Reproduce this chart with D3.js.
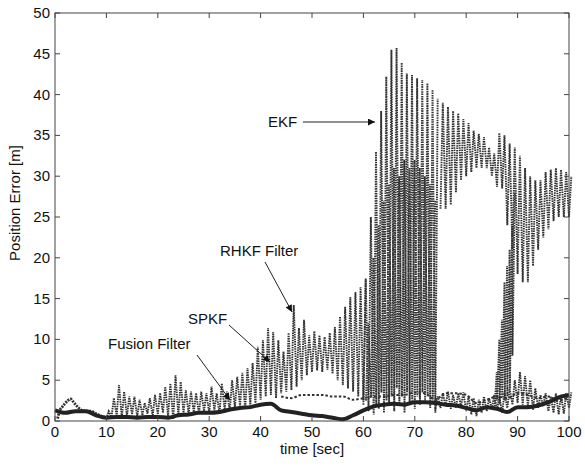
<!DOCTYPE html>
<html>
<head>
<meta charset="utf-8">
<script src="https://cdn.jsdelivr.net/npm/d3@7"></script>
<style>
body { margin: 0; background: #fff; }
svg text { font-family: "Liberation Sans", Arial, sans-serif; fill: #111; }
</style>
</head>
<body>
<svg id="chart"></svg>
<script>
// ticks
var xTicks = [0, 10, 20, 30, 40, 50, 60, 70, 80, 90, 100];
var yTicks = [0, 5, 10, 15, 20, 25, 30, 35, 40, 45, 50];

// Fusion filter (thick line), every 2 sec
var fusionTime = d3.range(0, 101, 2);
var fusionErr = [1.3, 1.0, 1.2, 1.2, 0.7, 0.4, 0.5, 0.5, 0.4, 0.5,
    0.5, 0.4, 0.7, 0.8, 1.0, 1.0, 1.1, 1.4, 1.6, 1.7,
    2.0, 2.1, 1.3, 1.1, 0.9, 0.7, 0.6, 0.4, 0.2, 0.7,
    1.3, 1.8, 2.0, 2.1, 2.0, 2.3, 2.3, 2.2, 2.0, 1.9,
    1.6, 1.3, 1.7, 1.5, 1.1, 1.7, 1.7, 1.9, 2.3, 2.9, 3.2];

// start-up transient (first 10 sec)
var startTime = [0.5, 1, 1.5, 2, 2.5, 3, 3.5, 4, 5, 6, 7, 8, 9, 10];
var startErr = [0.3, 1.4, 1.8, 2.2, 2.5, 2.7, 2.4, 2.0, 1.4, 1.2, 1.2, 0.9, 0.6, 0.5];

// SPKF / RHKF oscillation: peak and trough each second, 10..60 sec
var spkfTime = d3.range(10, 61, 1);
var spkfHigh = [1.2, 2.8, 4.4, 3.6, 3.0, 3.0, 2.6, 2.2, 2.8, 3.2,
    3.4, 4.2, 4.6, 5.6, 4.8, 3.8, 3.6, 3.4, 3.6, 3.4,
    4.2, 3.4, 4.6, 3.6, 5.0, 5.4, 5.9, 6.5, 7.1, 9.1,
    9.9, 11.4, 10.9, 9.9, 8.5, 10.8, 14.2, 11.4, 12.4, 10.5,
    11.0, 10.5, 10.3, 10.8, 11.5, 12.8, 14.0, 15.2, 15.8, 16.4, 17.3];
var spkfLow = [0.3, 0.5, 0.6, 0.4, 0.6, 0.8, 0.5, 0.7, 0.9, 0.6,
    0.8, 1.0, 0.6, 0.2, 0.7, 1.0, 0.8, 1.1, 0.9, 1.2,
    1.0, 1.3, 0.9, 1.4, 1.2, 1.6, 1.8, 1.5, 2.0, 2.2,
    2.6, 3.0, 3.2, 2.8, 3.4, 3.6, 3.8, 4.2, 5.0, 5.6,
    6.0, 6.2, 6.0, 6.3, 5.8, 5.0, 4.4, 4.0, 3.6, 3.0, 2.5];

// EKF divergence, 60..74 sec
var ekfTime = d3.range(60, 75, 1);
var ekfHigh = [17.5, 25, 33, 38, 42.2, 45.5, 45.7, 43.9, 42.6, 42.4, 42, 41.8, 41.4, 40.6, 39.5];
var ekfLow = [2.0, 1.2, 0.8, 1.5, 1.0, 2.0, 1.2, 1.8, 1.0, 2.2, 1.5, 2.0, 2.4, 1.6, 1.0];

// second dense band under the EKF peaks
var ekf2Time = d3.range(60.5, 74, 1);
var ekf2High = [12, 20, 24, 27, 29, 31, 30, 32, 31, 32, 31, 30, 29, 27];
var ekf2Low = [2.5, 3, 2, 3.5, 2.5, 3, 4, 3, 3.5, 2.5, 3, 3.5, 3, 2.5];

// EKF after 75 sec
var ekf3Time = d3.range(75, 101, 1);
var ekf3High = [39, 38.5, 38, 37.7, 37, 36.5, 35.6, 35.2, 34.8, 33.5, 32.8, 35.3, 35,
    34, 33.5, 32.5, 31, 30, 29.5, 29.5, 30.5, 30.8, 31, 30.8, 30.5, 30];
var ekf3Low = [26, 26, 26.5, 28, 29.5, 30, 30.5, 31, 31, 31, 30, 28.7, 28.5,
    24, 21, 18, 17, 17, 19, 21, 22.5, 23.5, 24.5, 25, 25, 25];

// spike around 86..89 sec
var spikeTime = [85.5, 86, 86.5, 87, 87.5, 88, 88.5, 89];
var spikeHigh = [6, 10, 12.4, 17, 19, 21, 24, 28];
var spikeLow = [1.5, 2.5, 2, 3, 2.5, 3, 4, 8];

// small noise after 74 sec
var noiseTime = d3.range(74, 101, 1);
var noiseHigh = [3.0, 3.4, 3.6, 3.2, 3.4, 3.5, 3.0, 2.8, 2.6, 3.0, 2.8, 3.2, 3.0, 3.5,
    4.0, 5.0, 6.0, 5.5, 5.0, 4.0, 3.2, 3.4, 3.0, 3.4, 3.2, 3.4, 3.5];
var noiseLow = [1.5, 1.6, 1.8, 1.5, 1.6, 1.8, 1.2, 0.8, 0.6, 1.0, 1.2, 1.5, 1.4, 1.0,
    1.6, 2.0, 2.2, 2.0, 1.8, 1.4, 1.6, 1.8, 1.2, 1.0, 0.8, 0.9, 1.6];

// converged dashed line, every 2 sec from 44
var lateTime = d3.range(44, 101, 2);
var lateErr = [3.0, 2.8, 3.2, 3.2, 3.2, 3.0, 3.0, 2.6, 2.8, 3.0, 3.0, 3.2, 3.2, 3.5, 3.4,
    2.6, 3.4, 3.4, 3.2, 2.2, 2.6, 3.0, 2.8, 3.4, 3.2, 2.8, 3.0, 2.5, 3.0];

var width = 585, height = 468;
var margin = { left: 55, right: 16, top: 13, bottom: 47 };

var svg = d3.select('#chart')
    .attr('width', width)
    .attr('height', height);

var x = d3.scaleLinear().domain([0, 100]).range([margin.left, width - margin.right]);
var y = d3.scaleLinear().domain([0, 50]).range([height - margin.bottom, margin.top]);

var plot = svg.append('g');
var line = d3.line().x(d => x(d[0])).y(d => y(d[1]));
var smooth = d3.line().x(d => x(d[0])).y(d => y(d[1])).curve(d3.curveMonotoneX);

// oscillating band: go up to the peak and back to the trough each step
function drawBand(times, highs, lows) {
    var pts = [];
    for (var i = 0; i < times.length; i++) {
        pts.push([times[i], lows[i]]);
        pts.push([times[i] + 0.45, highs[i]]);
    }
    plot.append('path')
        .attr('d', line(pts))
        .attr('fill', 'none')
        .attr('stroke', '#333')
        .attr('stroke-width', 1.9)
        .attr('stroke-dasharray', '1.5 0.9');
}

drawBand(spkfTime, spkfHigh, spkfLow);
drawBand(ekf2Time, ekf2High, ekf2Low);
drawBand(ekfTime, ekfHigh, ekfLow);
drawBand(ekf3Time, ekf3High, ekf3Low);
drawBand(spikeTime, spikeHigh, spikeLow);
drawBand(noiseTime, noiseHigh, noiseLow);

// converged estimate, dashed
plot.append('path')
    .datum(d3.zip(lateTime, lateErr))
    .attr('d', smooth)
    .attr('fill', 'none')
    .attr('stroke', '#333')
    .attr('stroke-width', 2)
    .attr('stroke-dasharray', '2.5 2');

// start-up transient
plot.append('path')
    .datum(d3.zip(startTime, startErr))
    .attr('d', smooth)
    .attr('fill', 'none')
    .attr('stroke', '#333')
    .attr('stroke-width', 2.8)
    .attr('stroke-dasharray', '2 1');

// fusion filter, thick
plot.append('path')
    .datum(d3.zip(fusionTime, fusionErr))
    .attr('d', smooth)
    .attr('fill', 'none')
    .attr('stroke', '#222')
    .attr('stroke-width', 4);

// frame
var x0 = x(0), x1 = x(100), y0 = y(0), y1 = y(50);
svg.append('rect')
    .attr('x', x0).attr('y', y1)
    .attr('width', x1 - x0).attr('height', y0 - y1)
    .attr('fill', 'none').attr('stroke', '#444').attr('stroke-width', 1);

// inward ticks on all four sides
var tickLen = 5;
xTicks.forEach(function (t) {
    svg.append('line').attr('x1', x(t)).attr('x2', x(t)).attr('y1', y0).attr('y2', y0 - tickLen).attr('stroke', '#444');
    svg.append('line').attr('x1', x(t)).attr('x2', x(t)).attr('y1', y1).attr('y2', y1 + tickLen).attr('stroke', '#444');
    svg.append('text').attr('x', x(t)).attr('y', y0 + 16)
        .attr('text-anchor', 'middle').attr('font-size', 15).text(t);
});
yTicks.forEach(function (t) {
    svg.append('line').attr('x1', x0).attr('x2', x0 + tickLen).attr('y1', y(t)).attr('y2', y(t)).attr('stroke', '#444');
    svg.append('line').attr('x1', x1).attr('x2', x1 - tickLen).attr('y1', y(t)).attr('y2', y(t)).attr('stroke', '#444');
    svg.append('text').attr('x', x0 - 5).attr('y', y(t) + 5)
        .attr('text-anchor', 'end').attr('font-size', 15).text(t);
});

// axis titles
svg.append('text').attr('x', (x0 + x1) / 2).attr('y', 454)
    .attr('text-anchor', 'middle').attr('font-size', 15).text('time [sec]');
svg.append('text').attr('transform', 'translate(20,203) rotate(-90)')
    .attr('text-anchor', 'middle').attr('font-size', 15).text('Position Error [m]');

// annotations with arrows
svg.append('defs').append('marker')
    .attr('id', 'arrow').attr('viewBox', '0 0 10 10')
    .attr('refX', 10).attr('refY', 5)
    .attr('markerWidth', 9).attr('markerHeight', 7)
    .attr('markerUnits', 'userSpaceOnUse')
    .attr('orient', 'auto')
    .append('path').attr('d', 'M0,0 L10,5 L0,10 Z').attr('fill', '#111');

var notes = [
    { label: 'EKF', tx: 268, ty: 127, from: [303, 122], to: [375, 122] },
    { label: 'RHKF Filter', tx: 220, ty: 256, from: [265, 262], to: [292, 312] },
    { label: 'SPKF', tx: 188, ty: 324, from: [229, 325], to: [270, 362] },
    { label: 'Fusion Filter', tx: 108, ty: 349, from: [197, 355], to: [230, 400] }
];
notes.forEach(function (n) {
    svg.append('text').attr('x', n.tx).attr('y', n.ty).attr('font-size', 15).text(n.label);
    svg.append('line')
        .attr('x1', n.from[0]).attr('y1', n.from[1])
        .attr('x2', n.to[0]).attr('y2', n.to[1])
        .attr('stroke', '#222').attr('stroke-width', 1)
        .attr('marker-end', 'url(#arrow)');
});
</script>
</body>
</html>
